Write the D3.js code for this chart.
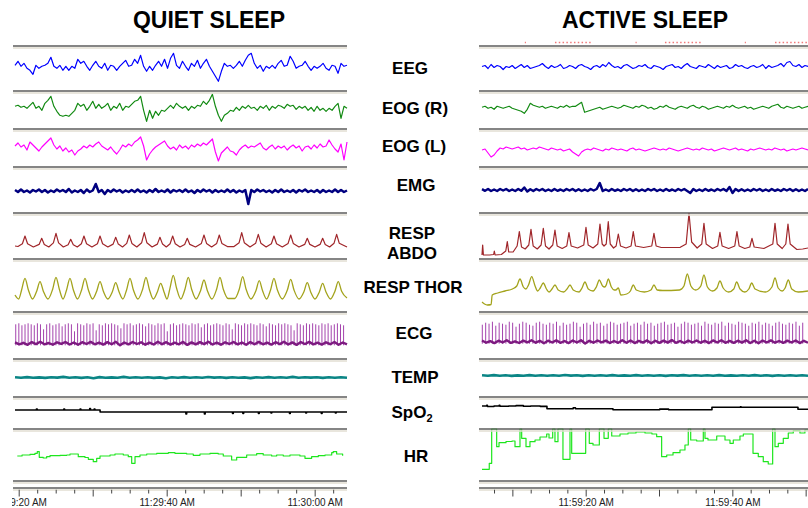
<!DOCTYPE html>
<html><head><meta charset="utf-8">
<script src="https://cdn.jsdelivr.net/npm/d3@7"></script>
<style>body{margin:0;background:#fff}svg{display:block}</style>
</head><body><svg id="c" width="808" height="508"></svg>
<script>
// ===== DATA =====
const panelTitles = ["QUIET SLEEP", "ACTIVE SLEEP"];
const channelLabels = ["EEG", "EOG (R)", "EOG (L)", "EMG", "RESP|ABDO", "RESP THOR", "ECG", "TEMP", "SpO|2", "HR"];
// time in seconds after 11:29:00 (quiet) and 11:59:00 (active)
const viewQuiet = [19.23, 64.37];
const viewActive = [5.45, 50.32];
const sigQuiet = [19.5, 64.37];
const sigActive = [5.86, 50.32];
const tickLabelTimesQuiet = [20, 40, 60];
const tickLabelsQuiet = ["11:29:20 AM", "11:29:40 AM", "11:30:00 AM"];
const tickLabelTimesActive = [20, 40];
const tickLabelsActive = ["11:59:20 AM", "11:59:40 AM"];
const scoringMarksActive = [[11.7, 11.85], [15.81, 20.86], [26.8, 26.95], [30.81, 35.86], [41.7, 41.85], [45.82, 50.3]];

// evenly sampled traces (amplitude units, up positive)
const eegQuiet = [3,7,2,5,0,-2,-6,3,0,2, 3,5,11,2,0,3,-2,2,-2,2, 0,9,5,7,2,-2,3,7,2,0, 5,-2,3,2,-2,2,5,8,2,3, 9,5,13,2,-3,2,-2,3,7,2, 9,0,10,15,3,0,7,2,-2,5, 2,8,0,5,9,2,-3,-8,-13,-3, 5,2,3,0,3,7,2,8,13,15, 5,0,3,-3,2,0,3,0,5,8, 2,3,12,7,0,2,3,7,2,-2, 2,0,2,5,0,-2,3,2,-5,5, 2,3];
const eogRQuiet = [2,3,1,2,0,3,6,0,2,-2, 5,8,12,2,-3,-7,-8,-7,-8,-5, -2,5,2,4,-2,2,7,0,4,0, 2,5,-2,2,0,5,-2,2,1,4, 7,8,12,-2,-13,-2,-10,-3,-7,-2, -3,0,3,0,5,2,0,2,-2,2, 0,3,2,7,4,8,14,2,-7,-13, -7,-5,-2,-3,1,-2,2,0,3,0, 1,-2,2,0,3,-2,2,0,3,2, 0,4,2,3,-1,2,0,2,-2,1, -3,2,-2,0,-3,0,-2,2,5,-10, 2,0];
const eogLQuiet = [2,5,1,3,-2,6,3,0,-3,1, 4,7,10,3,-1,2,-3,0,-4,-2, -7,-3,-1,2,0,3,1,4,6,2, 0,-2,1,-3,-6,-2,3,1,4,2, 6,8,11,2,-12,-6,-2,1,3,5, 7,2,-1,1,-2,3,0,2,-1,3, 1,4,2,5,3,6,9,-4,-13,-5, -2,1,-3,-4,-7,-2,1,3,0,2, 1,3,5,0,-2,1,3,-1,2,0, 2,-2,1,3,0,2,-3,1,2,-1, 3,0,4,1,2,8,3,-1,-4,4, -12,6];
const emgQuiet = [1,-1,1.5,-1,0.5,-1.5,1,-0.5,1.5,-1, 1,-1.5,0.5,-1,1.5,-0.5,1,-1,2,-1.5, 0.5,-1,1,-2,1.5,-1,0.5,7,-1,1, -3,1,-1,1.5,-0.5,1,-1.5,0.5,-1,1, -1,1.5,-1,0.5,-1.5,1,-1,2,-1,0.5, -1,1.5,-1.5,1,-0.5,1,-1,1.5,-1,0.5, -2,1,-1,1.5,-0.5,1,-1.5,1,-1,0.5, -1,1.5,-1,1,-1.5,0.5,-1,1,-13,1, -1,1.5,-0.5,1,-1,0.5,-1.5,1,-1,1.5, -1,0.5,-1,1,-1.5,1,-0.5,1.5,-1,0.5, -1,1,-1.5,1,-1,0.5,-1,1.5,-1,1, -1,0.5];
const tempQuiet = [0.5,-0.6,0.8,-0.4,0.3,-0.8,0.6,-0.3,1.3,-0.5, 0.4,-0.7,0.5,-1.5,0.7,-0.4,0.3,-0.6,1.2,-0.5, 0.6,-0.4,0.5,-0.7,0.3,-1.4,0.6,-0.5,0.8,-0.4, 0.5,-0.6,1.1,-0.3,0.4,-0.7,0.6,-0.5,0.3,-1.3, 0.5,-0.4,0.7,-0.6,0.4,-0.5,1.2,-0.4,0.6,-0.3, 0.5,-0.7,0.4,-0.5,0.6,-0.4];
const ecgBaseQuiet = [1,-1,0.5,-1.5,1.2,-0.8,1.5,-1,0.3,-1.4, 1,-0.6,1.3,-1.2,0.8,-1.5,1.1,-0.7,1.4,-1, 0.6,-1.3,1.2,-0.9,1.5,-2,0.8,-1.1,1.3,-0.7, 1,-1.4,0.6,-1.2,1.5,-0.9,1.1,-1.3,0.7,-1, 1.4,-1.6,0.9,-1.1,1.2,-0.8,1.5,-1.2,0.6,-1.4, 1,-0.7,1.3,-1.1,0.8,-1.5,1.2,-0.9,1.4,-1, 0.7,-1.3,1.1,-0.8,1.5,-1.2,0.9,-1.6,1.2,-0.7, 1.4,-1.1,0.6,-1.3,1,-0.9,1.3,-1.5,0.8,-1];
const eegActive = [1,2,-1,3,0,2,1,-2,1,0, 2,-1,1,3,0,2,-1,0,1,2, 4,1,-1,2,0,1,3,-1,0,2, 1,-1,2,3,1,0,-2,1,2,0, 3,1,5,2,0,1,-1,2,3,1, -1,0,2,1,3,0,-1,2,1,0, -2,1,2,3,0,1,-1,2,4,1, 0,-1,2,1,0,3,1,-1,2,0, 1,2,-1,0,3,1,2,0,-1,1, 2,0,1,3,-1,2,0,1,2,4, 1,5,6,2,1,3,0,2,1];
const eogRActive = [1,2,0,1,-1,2,1,0,1,2, 0,-1,-2,-3,-5,-1,5,3,2,1, 2,0,1,2,1,0,2,1,3,1, 2,2,4,6,-4,-3,-2,-1,0,1, -1,0,1,2,1,0,1,3,2,1, 0,2,1,3,2,0,1,-1,0,2, 1,3,1,0,-1,1,2,1,0,2, 3,1,0,2,1,-1,0,1,2,1, 0,2,1,3,1,0,1,2,0,1, -1,0,1,2,1,0,2,3,4,1, 0,2,1,0,1,2,0,1,2];
const eogLActive = [0,1,-3,-7,-5,-1,2,1,3,2, 1,2,3,1,2,0,1,2,1,3, 2,1,0,2,1,0,1,-1,0,1, -2,-4,-6,-2,0,1,0,2,1,0, -1,1,0,2,1,0,1,0,-1,1, 2,0,1,0,-1,0,1,2,1,0, 1,0,2,1,0,-1,0,1,2,1, 0,1,0,2,1,0,1,-1,0,1, 2,1,0,1,2,0,1,0,-1,1, 0,1,2,1,0,1,0,2,1,0, 1,-1,0,1,0,1,2,1,0];
const emgActive = [0.8,-0.8,1,-1,0.5,-1,1,-0.5,1,-1, 0.5,-1,1,-0.8,2.5,-1.5,0.8,-1,1,-0.5, 1,-1,0.5,-1,1,-0.8,0.5,-1,1,-0.5, 1,-1,0.8,-1,0.5,-1,1,-0.5,1,7, -1,0.5,-1,1,-0.8,0.5,-1,1,-0.5,1, -1,0.8,-1,0.5,-1,1,-0.5,1,-1,0.5, -1,1,-0.8,0.5,-1,1,-0.5,1,-1,-3, 1,-1,0.5,-1,1,-0.8,0.5,-1,1,-0.5, 1,-1,3,-3,1,-1,0.8,-1,0.5,-1, 1,-0.5,1,-1,0.5,-1,1,-0.8,0.5,-1, 1,-0.5,1,-1,0.8,-1,0.5,-1,1];
const tempActive = [0.4,-0.5,0.7,-0.4,0.5,-0.7,0.3,-0.5,0.8,-0.4, 0.6,-0.6,0.4,-0.5,0.9,-0.3,0.5,-0.7,0.4,-0.5, 0.6,-0.4,0.8,-0.6,0.3,-0.5,0.7,-0.4,0.5,-0.6, 0.4,-0.7,0.6,-0.3,0.8,-0.5,0.4,-0.6,0.5,-0.4, 0.7,-0.5,0.3,-0.6,0.6,-0.4,0.8,-0.5,0.4,-0.7, 0.5,-0.4,0.6,-0.5,0.4,-0.6];
const ecgBaseActive = [1.2,-1,0.6,-1.4,1,-0.8,1.5,-1.2,0.4,-1.3, 1.1,-0.7,1.4,-1,0.9,-1.6,1,-0.8,1.3,-1.1, 0.7,-1.4,1.2,-0.8,1.5,-1.8,0.9,-1,1.2,-0.6, 1.1,-1.3,0.7,-1.1,1.4,-1,1.2,-1.4,0.8,-0.9, 1.3,-1.5,1,-1.2,1.1,-0.9,1.6,-1.1,0.7,-1.3, 1.1,-0.8,1.2,-1,0.9,-1.4,1.3,-0.8,1.5,-1.1, 0.8,-1.2,1,-0.9,1.4,-1.3,1,-1.5,1.1,-0.8, 1.3,-1,0.7,-1.2,1.1,-0.8,1.2,-1.4,0.9,-1];

// ECG R-wave amplitudes, one per beat, and beat interval (s)
const ecgBeatStartQuiet = 19.6, ecgRRQuiet = 0.418;
const ecgAmpQuiet = [19,20,18,19,20,19,18,20,19,14,19,20,18,19,20,17,19,20,19,12, 20,19,18,20,19,20,13,19,18,20,19,20,19,18,15,20,19,20,18,19, 20,19,17,20,19,18,20,19,20,12,19,20,18,19,20,19,18,20,19,20, 16,19,20,18,19,20,19,18,20,19,14,20,19,18,20,19,20,19,18,20, 19,17,20,19,18,20,19,20,19,18,13,20,19,18,20,19,20,19,18,20, 19,20,18,19,20,19,18];
const ecgBeatStartActive = 5.9, ecgRRActive = 0.46;
const ecgAmpActive = [17,19,18,20,16,19,18,17,20,19,15,18,20,19,17,16,19,20,18,17, 19,18,20,16,19,17,18,20,19,15,18,19,17,20,18,19,16,18,20,19, 17,18,19,20,16,18,19,17,20,18,19,16,18,19,20,17,18,19,15,18, 20,19,17,18,19,16,20,18,17,19,18,20,16,19,18,17,20,19,18,16, 19,18,20,17,19,18,16,19,20,18,17,19,18,20,16,19];

// [time s, amplitude] keyframes
const abdoQuiet = [[19.5,1],[19.9,0.5],[20.5,3.3],[20.85,11],[21.2,3.3],[21.98,0],[22.76,2.6],[23.11,8.7],[23.46,2.6],[24.07,0],[24.69,4.1],[25.04,13.7],[25.39,4.1],[26.03,0],[26.68,2.3],[27.03,7.7],[27.38,2.3],[27.92,0],[28.47,3.3],[28.82,11],[29.17,3.3],[29.9,0],[30.64,3.3],[30.99,11],[31.34,3.3],[32.05,0],[32.76,2.9],[33.11,9.7],[33.46,2.9],[34.03,0],[34.6,3.6],[34.95,12],[35.3,3.6],[35.96,0],[36.62,4.3],[36.97,14.3],[37.32,4.3],[38.03,0],[38.74,2.9],[39.09,9.7],[39.44,2.9],[39.95,0],[40.46,3.3],[40.81,11],[41.16,3.3],[41.8,0],[42.43,2.6],[42.78,8.7],[43.13,2.6],[43.9,0],[44.69,3.6],[45.04,12],[45.39,3.6],[46.07,0],[46.76,3.6],[47.11,12],[47.46,3.6],[48.2,0.4],[49.1,0.4],[49.79,4.3],[50.14,14.3],[50.49,4.3],[51.26,0],[52.03,3.8],[52.38,12.7],[52.73,3.8],[53.44,0],[54.15,3.3],[54.5,11],[54.85,3.3],[55.63,0],[56.41,3.6],[56.76,12],[57.11,3.6],[57.88,0],[58.65,2.6],[59.0,8.7],[59.35,2.6],[60.04,0],[60.73,2.6],[61.08,8.7],[61.43,2.6],[62.02,0],[62.62,3.8],[62.97,12.7],[63.32,3.8],[64.37,0]];
const thorQuiet = [[19.5,4],[20.0,0],[20.4,9.3],[20.85,20.7],[21.3,9.3],[21.87,0],[22.43,7.8],[22.88,17.3],[23.33,7.8],[23.96,0],[24.59,9.8],[25.04,21.7],[25.49,9.8],[25.99,0],[26.48,9.3],[26.93,20.7],[27.38,9.3],[27.95,0],[28.51,9.3],[28.96,20.7],[29.41,9.3],[29.98,0],[30.54,7.8],[30.99,17.3],[31.44,7.8],[32.05,0],[32.66,7.3],[33.11,16.3],[33.56,7.3],[34.08,0],[34.59,9.3],[35.04,20.7],[35.49,9.3],[36.12,0],[36.75,9.8],[37.2,21.7],[37.65,9.8],[38.2,0],[38.74,7.1],[39.19,15.7],[39.64,7.1],[40.04,0],[40.44,10.7],[40.89,23.7],[41.34,10.7],[41.9,0],[42.47,9.8],[42.92,21.7],[43.37,9.8],[43.98,0],[44.59,8.6],[45.04,19],[45.49,8.6],[46.12,0],[46.75,9.8],[47.2,21.7],[47.65,9.8],[48.3,0.5],[49.2,0.5],[49.82,10],[50.27,22.3],[50.72,10],[51.39,0],[52.06,8.2],[52.51,18.3],[52.96,8.2],[53.5,0],[54.05,9.3],[54.5,20.7],[54.95,9.3],[55.63,0],[56.31,8.9],[56.76,19.7],[57.21,8.9],[57.88,0],[58.55,7.3],[59.0,16.3],[59.45,7.3],[60.04,0],[60.63,7.1],[61.08,15.7],[61.53,7.1],[62.14,0],[62.74,7.8],[63.19,17.3],[63.64,7.8],[64.37,1]];
const spo2Quiet = [[19.5,1],[22.3,1],[22.4,2],[22.5,1],[26.0,1],[26.1,2],[26.2,1],[28.2,1],[28.3,2],[28.4,1],[29.5,1],[29.6,2.5],[29.7,1],[30.1,1],[30.2,2],[30.3,1],[31.0,-1],[42.5,-1],[42.6,-3],[42.7,-1],[45.0,-1],[45.1,-3],[45.2,-1],[48.8,-1],[48.9,-2.5],[49.0,-1],[50.2,-1],[50.3,-2.5],[50.4,-1],[52.3,-1],[52.4,-2.5],[52.5,-1],[54.0,-1],[54.1,-2],[54.2,-1],[56.5,-1],[56.6,-2.5],[56.7,-1],[58.7,-1],[58.8,-2],[58.9,-1],[60.8,-1],[60.9,-2.5],[61.0,-1],[62.7,-1],[62.8,-2],[62.9,-1],[64.37,-1]];
const hrQuiet = [[19.81,23],[20.45,24],[21.53,24.7],[22.2,25.7],[22.51,27.3],[22.78,21.7],[23.32,21],[23.78,22.3],[24.23,23.3],[25.58,23.7],[26.49,24],[26.93,25],[28.05,22.3],[28.96,21.5],[29.41,19.7],[30.08,17.3],[30.54,20.7],[30.99,23],[32.34,24],[33.01,25],[34.14,24],[34.81,22.3],[35.27,15.7],[35.72,22.3],[36.39,24],[37.3,25],[38.65,25.7],[40.22,26.3],[41.12,25.7],[42.7,25],[43.59,23.7],[44.5,25],[45.85,25.7],[46.97,25],[47.65,23],[48.78,19],[49.46,21.7],[50.81,24],[52.16,25.3],[53.05,24],[54.19,23],[54.86,24],[55.76,23],[56.66,24],[58.01,23],[58.69,20.7],[59.59,22.3],[60.49,23.3],[61.39,24],[62.3,26.3],[62.51,27.3],[62.97,25],[63.78,23.3]];

const abdoActive = [[5.86,-5],[5.95,5],[6.05,-5],[6.9,-5],[7.45,-4.5],[7.54,-1],[7.65,-5],[8.5,-4.5],[9.1,-1],[9.31,8.3],[9.5,-2],[10.1,-2],[10.65,4],[10.95,18.3],[11.25,3],[11.75,1],[12.24,5],[12.54,20.7],[12.84,4],[13.4,1],[13.92,5],[14.22,21.7],[14.52,4],[15.0,1],[15.51,5],[15.81,20],[16.11,4],[16.8,1.5],[17.42,4],[17.72,17.3],[18.02,4],[18.9,2],[19.74,5],[20.04,22.7],[20.34,5],[21.0,2],[21.65,6],[21.95,26],[22.25,6],[22.5,4],[22.8,6],[23.08,28.3],[23.35,6],[23.8,2],[24.15,4],[24.45,16],[24.75,4],[25.5,2],[26.19,4],[26.49,18.3],[26.79,4],[27.9,2.5],[29.01,4],[29.31,16.7],[29.61,4],[30.3,2.5],[32.9,2.7],[33.7,6],[34.09,36.7],[34.45,8],[35.2,2],[35.83,6],[36.13,26.7],[36.43,6],[37.3,1.5],[38.01,4],[38.31,17.7],[38.61,4],[39.5,1.5],[40.33,4],[40.63,18.3],[40.93,4],[41.7,1.5],[42.38,3],[42.68,11.7],[42.98,3],[44.3,1.5],[45.52,6],[45.82,26.7],[46.12,6],[46.8,1.5],[47.29,6],[47.59,26],[47.89,6],[48.8,0.5],[49.6,1],[50.32,2]];
const thorActive = [[5.86,-10],[6.2,-12],[6.6,-13],[7.1,-12.5],[7.25,-3],[8.0,-1],[9.0,1],[10.0,3],[10.6,6],[11.04,13],[11.5,5],[11.85,3],[12.2,7],[12.64,15.3],[13.1,6],[13.45,1],[13.8,4],[14.22,9],[14.65,3],[15.0,0],[15.4,3],[15.81,7],[16.25,2],[17.0,0],[17.45,3],[17.86,7],[18.3,2],[19.1,0],[19.5,4],[19.9,10],[20.35,3],[21.0,1],[21.45,5],[21.86,12],[22.3,6],[22.6,5],[22.8,7],[23.08,13],[23.5,5],[23.9,2],[24.1,2],[24.45,4],[24.8,-3],[25.6,-2],[26.1,1],[26.49,7],[26.9,2],[28.0,0],[28.9,2],[29.31,7],[29.75,2],[30.5,1.5],[32.8,2],[33.4,6],[33.86,18],[34.35,6],[35.0,2],[35.7,6],[36.13,17],[36.6,5],[37.3,1],[37.9,4],[38.31,11],[38.75,4],[39.5,0],[40.2,3],[40.59,10],[41.05,3],[41.7,0],[42.25,3],[42.64,9],[43.1,3],[44.5,0],[45.4,5],[45.82,14],[46.25,4],[46.8,1],[47.2,4],[47.63,12],[48.1,3],[49.0,0],[50.32,1]];
const spo2Active = [[5.86,2],[6.5,2.6],[6.6,1.5],[7.5,2],[8.2,2.6],[8.3,1.7],[9.5,2],[10.5,2.4],[11.5,1.7],[12.5,2],[13.8,1.6],[14.72,-0.7],[18.2,-0.7],[18.3,0.3],[18.6,-0.7],[23.72,-1.7],[30.0,-1.7],[30.1,-1.1],[31.3,-1.7],[37.22,0.7],[41.0,0.7],[41.1,1.3],[41.2,0.7],[48.95,-1.3],[50.32,-1.3]];
const hrActive = [[5.86,9.7],[6.85,15.7],[7.18,50],[7.86,32.3],[8.18,36.3],[9.13,37.5],[9.95,38],[10.36,32.3],[11.04,50],[11.27,40.7],[11.86,32.3],[12.4,37.3],[13.09,39],[13.77,42],[14.68,45],[15.0,41],[15.5,50],[15.81,37.3],[16.22,50],[16.9,19.7],[17.86,50],[18.09,25.7],[20.0,50],[20.49,35.7],[21.0,34],[21.86,50],[22.5,40.7],[23.08,50],[23.55,43],[24.68,45],[25.77,46],[26.86,47],[28.09,46],[29.04,45],[29.68,42.3],[30.36,22.3],[31.05,24],[31.91,26.3],[32.86,29],[33.54,34],[33.99,50],[34.32,39],[35.14,38],[36.04,50],[36.27,40.7],[36.68,39],[37.87,43],[39.0,39],[39.68,35.7],[40.13,39],[41.04,43],[41.5,45],[42.82,25.7],[43.54,22.3],[44.22,17.3],[44.9,15],[45.5,50],[45.82,32.3],[46.27,35.7],[46.95,40.7],[47.63,46],[48.31,48.3],[49.22,46],[49.9,49],[50.32,49]];

// ===== DRAWING =====
const svg = d3.select('#c');
svg.append('rect').attr('width', 808).attr('height', 508).attr('fill', '#fff');
const FONT = "'Liberation Sans', Arial, sans-serif";
const sepY = [46, 91, 129, 167, 213, 259, 312, 359, 397, 429, 481, 488];

const panels = [
  { id: 'clipQ', px: [13, 347], view: viewQuiet, win: sigQuiet, titleX: 209,
    bases: { eeg: 68.3, eogR: 108.3, eogL: 148, emg: 191, abdo: 247, thor: 299, ecg: 343.3, temp: 377.5, spo2: 411, hr: 479 },
    eeg: eegQuiet, eogR: eogRQuiet, eogL: eogLQuiet, emg: emgQuiet, temp: tempQuiet, ecgBase: ecgBaseQuiet,
    ecgAmp: ecgAmpQuiet, ecgStart: ecgBeatStartQuiet, ecgRR: ecgRRQuiet,
    abdo: abdoQuiet, thor: thorQuiet, spo2: spo2Quiet, hr: hrQuiet,
    tickTimes: tickLabelTimesQuiet, tickText: tickLabelsQuiet, marks: [] },
  { id: 'clipA', px: [479, 808], view: viewActive, win: sigActive, titleX: 645,
    bases: { eeg: 67.5, eogR: 108.3, eogL: 150, emg: 190, abdo: 250, thor: 292, ecg: 341.7, temp: 375.5, spo2: 408, hr: 479 },
    eeg: eegActive, eogR: eogRActive, eogL: eogLActive, emg: emgActive, temp: tempActive, ecgBase: ecgBaseActive,
    ecgAmp: ecgAmpActive, ecgStart: ecgBeatStartActive, ecgRR: ecgRRActive,
    abdo: abdoActive, thor: thorActive, spo2: spo2Active, hr: hrActive,
    tickTimes: tickLabelTimesActive, tickText: tickLabelsActive, marks: scoringMarksActive }
];

const defs = svg.append('defs');
panels.forEach((P, pi) => {
  defs.append('clipPath').attr('id', P.id).append('rect')
    .attr('x', P.px[0] - 1).attr('y', 0).attr('width', P.px[1] - P.px[0] + 2).attr('height', 508);
  const x = d3.scaleLinear().domain(P.view).range(P.px);
  const g = svg.append('g').attr('clip-path', `url(#${P.id})`);
  const yAt = (b, gain) => d3.scaleLinear().domain([-60, 60]).range([b + 60 * (gain || 1), b - 60 * (gain || 1)]);

  const even = (vals, b, color, w, gain) => {
    const ti = d3.scaleLinear().domain([0, vals.length - 1]).range(P.win);
    const y = yAt(b, gain);
    g.append('path').datum(vals).attr('fill', 'none').attr('stroke', color)
      .attr('stroke-width', w).attr('stroke-linejoin', 'round')
      .attr('d', d3.line().x((v, i) => x(ti(i))).y(v => y(v)));
  };
  const keys = (pairs, b, color, w, curve) => {
    const y = yAt(b);
    g.append('path').datum(pairs).attr('fill', 'none').attr('stroke', color)
      .attr('stroke-width', w).attr('stroke-linejoin', 'round')
      .attr('d', d3.line().curve(curve || d3.curveLinear).x(p => x(p[0])).y(p => y(p[1])));
  };
  const B = P.bases;
  even(P.eeg, B.eeg, '#0000ff', 1.2);
  even(P.eogR, B.eogR, '#128a12', 1.2);
  even(P.eogL, B.eogL, '#ff00ff', 1.2);
  even(P.emg, B.emg, '#000080', 2.5);
  keys(P.abdo, B.abdo, '#a0262a', 1.2);
  keys(P.thor, B.thor, '#a3a31c', 1.3, d3.curveMonotoneX);
  // ECG
  const yE = yAt(B.ecg);
  g.append('g').selectAll('line').data(P.ecgAmp).join('line')
    .attr('x1', (a, i) => x(P.ecgStart + i * P.ecgRR)).attr('x2', (a, i) => x(P.ecgStart + i * P.ecgRR))
    .attr('y1', yE(-2)).attr('y2', a => yE(a))
    .attr('stroke', '#a443ad').attr('stroke-width', 1);
  even(P.ecgBase, B.ecg, '#7d1a80', 2.4);
  even(P.temp, B.temp, '#0a8585', 2.6, 0.5);
  keys(P.spo2, B.spo2, '#000000', 1.6, d3.curveStepAfter);
  keys(P.hr, B.hr, '#1ee61e', 1.2, d3.curveStepAfter);

  // scoring marks
  g.selectAll('line.mk').data(P.marks).join('line').attr('class', 'mk')
    .attr('x1', m => x(m[0])).attr('x2', m => x(m[1]))
    .attr('y1', 42.5).attr('y2', 42.5)
    .attr('stroke', '#f07a7a').attr('stroke-width', 1.3).attr('stroke-dasharray', '1.5,2.3');

  // separators
  sepY.forEach(yy => {
    svg.append('line').attr('x1', P.px[0]).attr('x2', P.px[1]).attr('y1', yy).attr('y2', yy)
      .attr('stroke', '#5c5c5c').attr('stroke-width', 1.7);
    svg.append('line').attr('x1', P.px[0]).attr('x2', P.px[1]).attr('y1', yy + 2).attr('y2', yy + 2)
      .attr('stroke', '#e2ded2').attr('stroke-width', 1.6);
  });

  // axis
  const ax = svg.append('g').attr('clip-path', `url(#${P.id})`).attr('transform', 'translate(0,489.5)');
  const first = Math.ceil(P.view[0] / 2.5) * 2.5;
  const minor = d3.range(first, P.view[1], 2.5).filter(t => t % 10 !== 0);
  const major = d3.range(first, P.view[1], 2.5).filter(t => t % 10 === 0);
  const sty = s => { s.select('.domain').remove(); s.selectAll('line').attr('stroke', '#444'); };
  ax.append('g').call(d3.axisBottom(x).tickValues(minor).tickSize(4).tickFormat('')).call(sty);
  ax.append('g').call(d3.axisBottom(x).tickValues(major).tickSize(7).tickFormat('')).call(sty);
  ax.append('g').call(d3.axisBottom(x).tickValues(P.tickTimes).tickSize(0).tickPadding(9)
      .tickFormat((t, i) => P.tickText[i])).call(s => {
        s.select('.domain').remove();
        s.selectAll('text').attr('font-family', FONT).attr('font-size', 10).attr('fill', '#222');
      });

  // title
  svg.append('text').attr('x', P.titleX).attr('y', 28).attr('text-anchor', 'middle')
    .attr('font-family', FONT).attr('font-weight', 'bold').attr('font-size', 23).attr('fill', '#000')
    .text(panelTitles[pi]);
});

// channel labels
const labelPos = [[410, 74], [415, 114], [414, 152], [416, 191], [412, 239], [413, 293], [414, 339], [415, 383], [412, 418], [416, 462]];
channelLabels.forEach((lab, i) => {
  const t = svg.append('text').attr('x', labelPos[i][0]).attr('y', labelPos[i][1])
    .attr('text-anchor', 'middle').attr('font-family', FONT).attr('font-weight', 'bold')
    .attr('font-size', 17).attr('fill', '#000');
  if (lab === 'RESP|ABDO') {
    t.append('tspan').attr('x', labelPos[i][0]).text('RESP');
    t.append('tspan').attr('x', labelPos[i][0]).attr('dy', 20).text('ABDO');
  } else if (lab === 'SpO|2') {
    t.append('tspan').text('SpO');
    t.append('tspan').attr('font-size', 11).attr('dy', 4).text('2');
  } else {
    t.text(lab);
  }
});
</script></body></html>
